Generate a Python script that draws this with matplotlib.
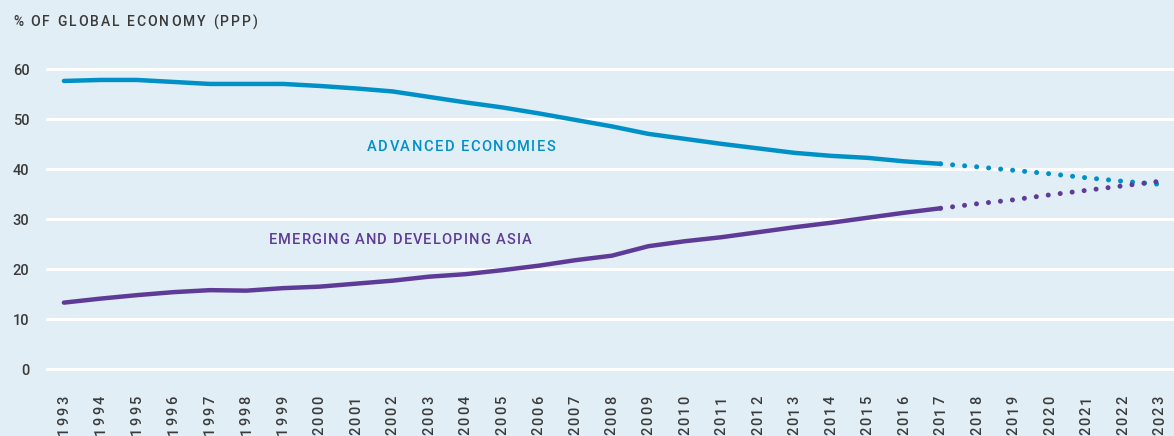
import numpy as np
import matplotlib
matplotlib.use("Agg")
import matplotlib.pyplot as plt
from matplotlib.font_manager import FontProperties
from matplotlib.transforms import IdentityTransform

# data
years = list(range(1993, 2024))
adv_hist = [57.7, 57.9, 57.9, 57.5, 57.1, 57.1, 57.1, 56.7, 56.2, 55.6, 54.5, 53.4,
            52.4, 51.2, 49.9, 48.6, 47.1, 46.1, 45.1, 44.2, 43.3, 42.7, 42.3, 41.6, 41.1]
adv_proj = [41.1, 40.5, 39.8, 39.1, 38.3, 37.6, 37.0]
asia_hist = [13.3, 14.1, 14.8, 15.4, 15.8, 15.7, 16.2, 16.5, 17.1, 17.7, 18.5, 19.0,
             19.8, 20.7, 21.8, 22.7, 24.6, 25.6, 26.4, 27.4, 28.4, 29.3, 30.3, 31.3, 32.2]
asia_proj = [32.2, 33.1, 33.9, 34.9, 35.8, 36.7, 37.6]
yticks = [0, 10, 20, 30, 40, 50, 60]

hist_years = years[:25]
proj_years = years[24:]

bg = "#e1eef6"
blue = "#0090c8"
purple = "#5f3b98"
txt = "#3a3a3a"
W, H = 1174, 436

plt.rcParams['font.family'] = ['Roboto', 'DejaVu Sans']

fig = plt.figure(figsize=(W / 100, H / 100), dpi=100, facecolor=bg)
ax = fig.add_axes([46 / W, 46 / H, 1 - 46 / W, 340 / H])
ax.set_facecolor(bg)
renderer = fig.canvas.get_renderer()


def char_width(ch, fp):
    # advance of one char, measured against a bar so spaces count too
    w2 = renderer.get_text_width_height_descent(ch + "|", fp, ismath=False)[0]
    w1 = renderer.get_text_width_height_descent("|", fp, ismath=False)[0]
    return w2 - w1


def spaced(x, y, s, spacing, color, size, rotation=0, align='left'):
    # letter-spaced text, x/y in pixels from bottom-left
    fp = FontProperties(family=['Roboto', 'DejaVu Sans'], size=size, weight='medium')
    widths = [char_width(c, fp) for c in s]
    total = sum(widths) + spacing * (len(s) - 1)
    off = {'left': 0, 'center': -total / 2, 'right': -total}[align]
    dx, dy = (1, 0) if rotation == 0 else (0, 1)
    pos = off
    for c, w in zip(s, widths):
        fig.text(x + dx * pos, y + dy * pos, c, transform=IdentityTransform(),
                 fontproperties=fp, color=color, rotation=rotation,
                 rotation_mode='anchor', ha='left', va='center')
        pos += w + spacing


ax.plot(hist_years, adv_hist, color=blue, lw=3.2, solid_capstyle='round', zorder=3)
ax.plot(proj_years, adv_proj, color=blue, lw=3.6, linestyle=(0, (0.01, 2.4)),
        dash_capstyle='round', zorder=3)
ax.plot(hist_years, asia_hist, color=purple, lw=3.2, solid_capstyle='round', zorder=3)
ax.plot(proj_years, asia_proj, color=purple, lw=3.6, linestyle=(0, (0.01, 2.4)),
        dash_capstyle='round', zorder=3)

ax.set_xlim(1992.51, 2023.39)
ax.set_ylim(-4.2, 63.9)
ax.set_yticks(yticks)
ax.set_xticks(years)
ax.set_xticklabels([])
ax.grid(axis='y', color='white', lw=2.2, zorder=1)
ax.grid(axis='x', visible=False)
for s in ax.spines.values():
    s.set_visible(False)
ax.tick_params(length=0, labelsize=10.5, labelcolor=txt)
ax.tick_params(axis='y', pad=12)
for lab in ax.get_yticklabels():
    lab.set_fontweight('medium')

# rotated, letter-spaced year labels hanging just under the plot
for yr in years:
    xp = ax.transData.transform((yr, 0))[0]
    spaced(xp, H - 396, str(yr), 1.9, txt, 10.5, rotation=90, align='right')

spaced(461, H - 147, "ADVANCED ECONOMIES", 1.5, blue, 10.5, align='center')
spaced(400, H - 240, "EMERGING AND DEVELOPING ASIA", 1.1, purple, 10.5, align='center')
spaced(13, H - 22, "% OF GLOBAL ECONOMY (PPP)", 2.0, txt, 10, align='left')

fig.savefig("out.png", dpi=100, facecolor=bg)
